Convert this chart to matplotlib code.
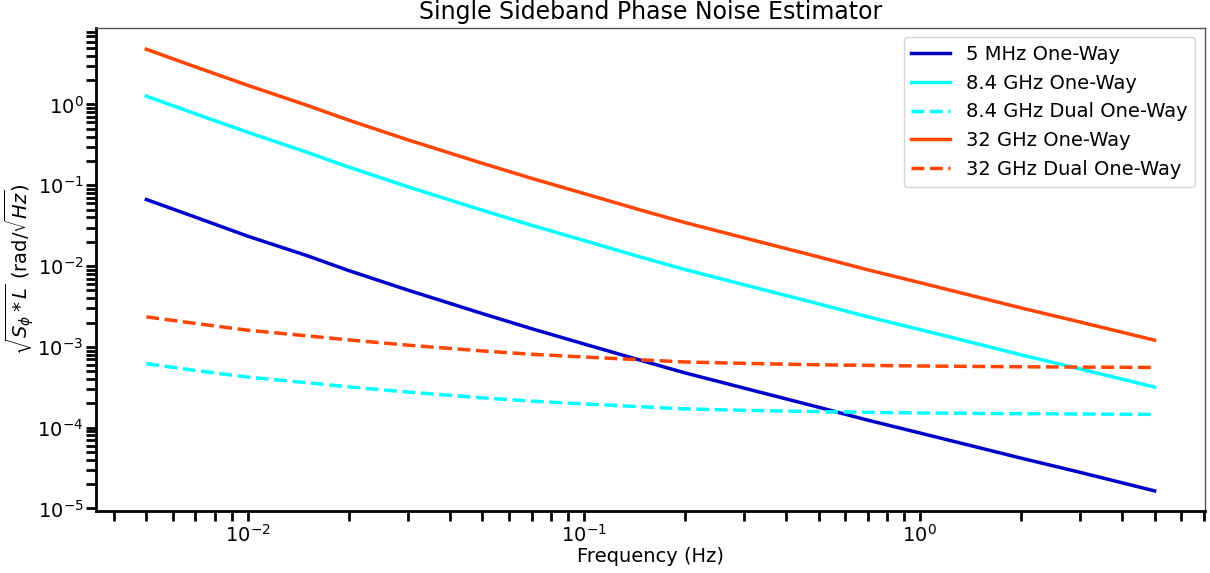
import matplotlib
matplotlib.use("Agg")
import matplotlib.pyplot as plt
import numpy as np

freq = [0.005, 0.007, 0.01, 0.015, 0.02, 0.03, 0.05, 0.07, 0.1, 0.15,
        0.2, 0.3, 0.5, 0.7, 1.0, 1.5, 2.0, 3.0, 5.0]

mhz5_one_way = [6.67e-2, 4.03e-2, 2.35e-2, 1.35e-2, 8.8e-3, 5.04e-3, 2.58e-3, 1.68e-3, 1.09e-3, 6.7e-4,
                4.77e-4, 3.09e-4, 1.79e-4, 1.24e-4, 8.6e-5, 5.66e-5, 4.2e-5, 2.8e-5, 1.65e-5]
ghz84_one_way = [1.27, 7.67e-1, 4.54e-1, 2.57e-1, 1.68e-1, 9.58e-2, 4.91e-2, 3.2e-2, 2.08e-2, 1.27e-2,
                 9.08e-3, 5.88e-3, 3.41e-3, 2.36e-3, 1.64e-3, 1.08e-3, 7.98e-4, 5.33e-4, 3.18e-4]
ghz84_dual = [6.2e-4, 5.1e-4, 4.23e-4, 3.6e-4, 3.2e-4, 2.76e-4, 2.34e-4, 2.13e-4, 1.97e-4, 1.81e-4,
              1.71e-4, 1.64e-4, 1.58e-4, 1.55e-4, 1.52e-4, 1.5e-4, 1.49e-4, 1.475e-4, 1.46e-4]
ghz32_one_way = [4.83, 2.92, 1.73, 9.8e-1, 6.4e-1, 3.65e-1, 1.87e-1, 1.22e-1, 7.93e-2, 4.85e-2,
                 3.46e-2, 2.24e-2, 1.3e-2, 9.0e-3, 6.25e-3, 4.1e-3, 3.04e-3, 2.03e-3, 1.21e-3]
ghz32_dual = [2.35e-3, 1.95e-3, 1.61e-3, 1.37e-3, 1.22e-3, 1.05e-3, 8.9e-4, 8.1e-4, 7.5e-4, 6.9e-4,
              6.5e-4, 6.25e-4, 6.0e-4, 5.9e-4, 5.8e-4, 5.72e-4, 5.67e-4, 5.62e-4, 5.56e-4]

fig = plt.figure(figsize=(12.1, 5.73), dpi=100)
ax = fig.add_axes([0.0793, 0.108, 0.9166, 0.844])

lw = 2.5
ax.loglog(freq, mhz5_one_way, color='mediumblue', lw=lw, label='5 MHz One-Way')
ax.loglog(freq, ghz84_one_way, color='cyan', lw=lw, label='8.4 GHz One-Way')
ax.loglog(freq, ghz84_dual, color='cyan', lw=lw, ls='--', label='8.4 GHz Dual One-Way')
ax.loglog(freq, ghz32_one_way, color='orangered', lw=lw, label='32 GHz One-Way')
ax.loglog(freq, ghz32_dual, color='orangered', lw=lw, ls='--', label='32 GHz Dual One-Way')

ax.set_ylim(10 ** -5.033, 10 ** 0.953)

ax.set_title('Single Sideband Phase Noise Estimator', fontsize=17)
ax.set_xlabel('Frequency (Hz)', fontsize=14, labelpad=1)
ax.set_ylabel(r'$\sqrt{S_{\phi} * L}$ (rad/$\sqrt{Hz}$)', fontsize=14, labelpad=1)

ax.tick_params(which='both', direction='out', length=7, width=2, labelsize=14, pad=2)
for side in ['left', 'bottom']:
    ax.spines[side].set_linewidth(2)
for side in ['top', 'right']:
    ax.spines[side].set_color('#555555')
    ax.spines[side].set_linewidth(1)

ax.legend(loc='upper right', fontsize=14)

fig.savefig('out.png', dpi=100)
